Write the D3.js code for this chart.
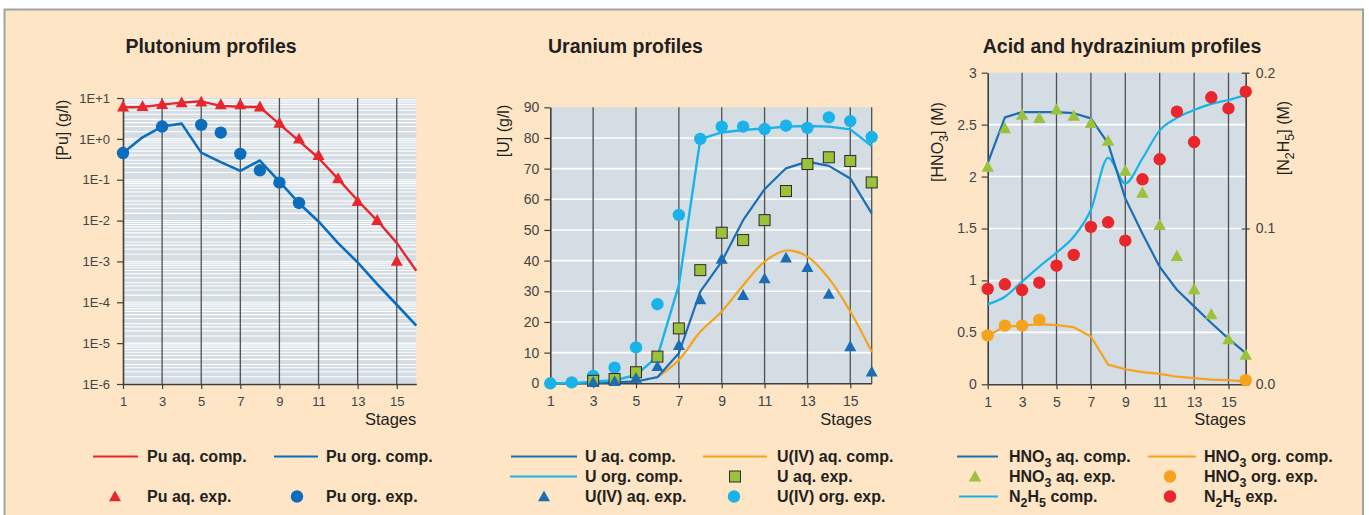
<!DOCTYPE html>
<html>
<head>
<meta charset="utf-8">
<script src="https://cdn.jsdelivr.net/npm/d3@7"></script>
<style>
  body { margin: 0; background: #ffffff; }
  svg text { font-family: "Liberation Sans", Arial, Helvetica, sans-serif; }
</style>
</head>
<body>
<svg id="chart" width="1369" height="515"></svg>
<script>
// ---------- data ----------
const stages = d3.range(1, 17);
const stageTicks = [1, 3, 5, 7, 9, 11, 13, 15];
const gridStages = [3, 5, 7, 9, 11, 13, 15];

// Plutonium profiles, [Pu] in g/l (log scale)
const puTickValues = [10, 1, 0.1, 0.01, 0.001, 0.0001, 0.00001, 0.000001];
const puTickLabels = ["1E+1", "1E+0", "1E-1", "1E-2", "1E-3", "1E-4", "1E-5", "1E-6"];
const puAqComp  = [5.9, 6.0, 6.9, 7.7, 8.3, 6.4, 6.1, 6.0, 2.3, 0.89, 0.34, 0.105, 0.031, 0.01, 0.00285, 0.00059];
const puOrgComp = [0.45, 1.09, 2.0, 2.36, 0.46, 0.27, 0.164, 0.295, 0.09, 0.0266, 0.0095, 0.0028, 0.00095, 0.00028, 0.000087, 0.000027];
const puAqExpStages = [1, 2, 3, 4, 5, 6, 7, 8, 9, 10, 11, 12, 13, 14, 15];
const puAqExp  = [6.0, 6.1, 6.9, 7.6, 7.9, 6.8, 6.8, 6.0, 2.4, 0.98, 0.39, 0.105, 0.029, 0.01, 0.001];
const puOrgExpStages = [1, 3, 5, 6, 7, 8, 9, 10];
const puOrgExp = [0.45, 2.0, 2.2, 1.42, 0.43, 0.17, 0.085, 0.027];

// Uranium profiles, [U] in g/l
const uTicks = [0, 10, 20, 30, 40, 50, 60, 70, 80, 90];
const uAqComp  = [0, 0, 0.1, 0.3, 0.6, 2, 9.8, 29.9, 39.7, 53.2, 63.3, 70.1, 72.3, 70.9, 66.8, 55.4];
const uOrgComp = [0, 0, 0.5, 1, 2.7, 8.7, 32, 79.6, 81.8, 82.6, 83.1, 83.7, 83.9, 83.7, 82.8, 77.4];
const u4AqCompStages = [6, 7, 8, 9, 10, 11, 12, 13, 14, 15, 16];
const u4AqComp = [2, 7.6, 16.8, 23.4, 32, 39.7, 43.3, 41.3, 34.2, 23.4, 10.3];
const uAqExpStages = [3, 4, 5, 6, 7, 8, 9, 10, 11, 12, 13, 14, 15, 16];
const uAqExp = [0.8, 1.4, 3.6, 8.7, 17.9, 36.9, 49.1, 46.7, 53.2, 62.7, 71.5, 73.7, 72.5, 65.5];
const u4AqExpStages = [3, 4, 5, 6, 7, 8, 9, 10, 11, 12, 13, 14, 15, 16];
const u4AqExp = [0.3, 0.5, 1.6, 5.4, 12.3, 27.2, 40.4, 28.6, 34, 40.8, 37.7, 29, 11.9, 3.6];
const u4OrgExp = [0, 0.3, 2.4, 5.1, 11.7, 25.8, 54.9, 79.7, 83.7, 83.7, 82.9, 84, 83.3, 86.7, 85.5, 80.3];

// Acid and hydrazinium profiles, [HNO3] and [N2H5] in M
const hno3Ticks = [0, 0.5, 1, 1.5, 2, 2.5, 3];
const hno3TickLabels = ["0", "0.5", "1", "1.5", "2", "2.5", "3"];
const n2h5Ticks = [0, 0.1, 0.2];
const hno3AqComp  = [2.13, 2.57, 2.62, 2.62, 2.62, 2.61, 2.56, 2.32, 1.79, 1.45, 1.13, 0.91, 0.75, 0.59, 0.44, 0.30];
const hno3OrgComp = [0.47, 0.555, 0.565, 0.58, 0.57, 0.55, 0.46, 0.19, 0.145, 0.118, 0.10, 0.073, 0.06, 0.045, 0.04, 0.025];
const hno3AqExp   = [2.09, 2.46, 2.59, 2.56, 2.64, 2.58, 2.51, 2.34, 2.05, 1.84, 1.53, 1.23, 0.91, 0.67, 0.43, 0.28];
const hno3OrgExpStages = [1, 2, 3, 4, 16];
const hno3OrgExp  = [0.47, 0.565, 0.565, 0.62, 0.04];
const n2h5Comp = [0.0513, 0.0562, 0.0659, 0.0755, 0.0845, 0.0947, 0.112, 0.1454, 0.129, 0.145, 0.163, 0.171, 0.176, 0.18, 0.1825, 0.1857];
const n2h5Exp  = [0.0612, 0.0642, 0.0605, 0.0652, 0.0761, 0.083, 0.101, 0.104, 0.0922, 0.1316, 0.1444, 0.175, 0.1555, 0.1842, 0.1771, 0.1878];

// ---------- palette ----------
const C = {
  page: "#fde5c6", frame: "#9fa3a6", plot: "#d4dde3",
  axis: "#3f3f3f", grid: "#505050", tick: "#444444", ink: "#231f20",
  red: "#e8262b", blue: "#0b6dbb", dblue: "#1d6db4", lblue: "#19b3ea",
  orange: "#f5a31c", green: "#9cc23c"
};

const svg = d3.select("#chart");
svg.append("rect").attr("x", 4.5).attr("y", 9.5).attr("width", 1358.5).attr("height", 520)
  .attr("fill", C.page).attr("stroke", C.frame).attr("stroke-width", 2);

const pairs = (xs, ys) => xs.map((s, i) => ({ s, v: ys[i] }));

// text with single-character subscripts written as "_x"
function rich(textSel, str, size) {
  const shift = size * 0.3, sub = size * 0.78;
  const parts = [];
  let buf = "";
  for (let i = 0; i < str.length; i++) {
    if (str[i] === "_") { if (buf) parts.push([buf, false]); buf = ""; parts.push([str[i + 1], true]); i++; }
    else buf += str[i];
  }
  if (buf) parts.push([buf, false]);
  let down = false;
  parts.forEach(([t, isSub]) => {
    const ts = textSel.append("tspan").text(t);
    if (isSub) { ts.attr("font-size", sub); if (!down) { ts.attr("dy", shift); down = true; } }
    else if (down) { ts.attr("dy", -shift); down = false; }
  });
  return textSel;
}

function triangle(g, x, y, w, color) {
  const h = w * 0.9;
  g.append("path")
    .attr("d", `M${x},${y - h * 0.6}L${x + w / 2},${y + h * 0.4}L${x - w / 2},${y + h * 0.4}Z`)
    .attr("fill", color);
}

function setupPanel(o) {
  const g = svg.append("g");
  const [x0, x1] = o.xRange, [yb, yt] = o.yRange;
  const x = d3.scaleLinear().domain([1, 16]).range(o.xRange);
  const y = o.y;
  g.append("rect").attr("x", x0).attr("y", yt).attr("width", x1 - x0).attr("height", yb - yt).attr("fill", C.plot);
  // horizontal white grid
  g.selectAll(".hg").data(o.hLines).join("line")
    .attr("x1", x0).attr("x2", x1).attr("y1", d => y(d)).attr("y2", d => y(d))
    .attr("stroke", "#ffffff").attr("stroke-width", o.hWidth || 1.6);
  // vertical stage grid
  g.selectAll(".vg").data(o.vLines).join("line")
    .attr("x1", d => x(d)).attr("x2", d => x(d)).attr("y1", yt).attr("y2", yb)
    .attr("stroke", C.grid).attr("stroke-width", 1.3);
  // axes
  const ax = g.append("g").attr("transform", `translate(0,${yb})`)
    .call(d3.axisBottom(x).tickValues(stageTicks).tickSize(5).tickSizeOuter(0).tickPadding(8).tickFormat(d3.format("d")));
  const ay = g.append("g").attr("transform", `translate(${x0},0)`)
    .call(d3.axisLeft(y).tickValues(o.yTicks).tickSize(6).tickSizeOuter(0).tickPadding(o.yPad)
      .tickFormat((d, i) => o.yLabels[i]));
  [ax, ay].forEach(a => {
    a.select(".domain").attr("stroke", C.axis).attr("stroke-width", 1.6);
    a.selectAll(".tick line").attr("stroke", C.axis).attr("stroke-width", 1.2);
    a.selectAll(".tick text").attr("fill", C.tick).attr("font-size", o.tickSize).attr("font-family", "Liberation Sans, Arial, sans-serif");
  });
  // title, axis name, stages label
  svg.append("text").attr("x", o.titleX).attr("y", 53).attr("text-anchor", "middle")
    .attr("font-size", 19.5).attr("font-weight", "bold").attr("fill", C.ink).text(o.title);
  rich(svg.append("text").attr("transform", `translate(${o.yLabelX},${o.yLabelY}) rotate(-90)`)
    .attr("text-anchor", "middle").attr("font-size", 16).attr("fill", C.ink), o.yLabel, 16);
  svg.append("text").attr("x", x1).attr("y", 425).attr("text-anchor", "end")
    .attr("font-size", 16.5).attr("fill", C.ink).text("Stages");
  return { g, x, y };
}

function drawLine(p, data, color, width, curve, yScale) {
  const ys = yScale || p.y;
  p.g.append("path").datum(data)
    .attr("d", d3.line().x(d => p.x(d.s)).y(d => ys(d.v)).curve(curve || d3.curveLinear))
    .attr("fill", "none").attr("stroke", color).attr("stroke-width", width).attr("stroke-linejoin", "round");
}
function drawDots(p, data, color, r, yScale) {
  const ys = yScale || p.y;
  p.g.selectAll(null).data(data).join("circle")
    .attr("cx", d => p.x(d.s)).attr("cy", d => ys(d.v)).attr("r", r).attr("fill", color);
}
function drawTris(p, data, color, w, yScale) {
  const ys = yScale || p.y;
  data.forEach(d => triangle(p.g, p.x(d.s), ys(d.v), w, color));
}
function drawSquares(p, data, color, w) {
  p.g.selectAll(null).data(data).join("rect")
    .attr("x", d => p.x(d.s) - w / 2).attr("y", d => p.y(d.v) - w / 2).attr("width", w).attr("height", w)
    .attr("fill", color).attr("stroke", "#2b2b2b").attr("stroke-width", 1);
}

// ---------- Plutonium ----------
const puMinor = [];
for (let e = -6; e < 1; e++) [1, 1.5, 2, 2.5, 3, 4, 5, 6, 7, 8, 9].forEach(k => puMinor.push(k * Math.pow(10, e)));
const pu = setupPanel({
  xRange: [123, 416.3], yRange: [384, 98],
  y: d3.scaleLog().domain([1e-6, 10]).range([384, 98]),
  hLines: puMinor, hWidth: 1.1, vLines: gridStages,
  yTicks: puTickValues, yLabels: puTickLabels, yPad: 7, tickSize: 13,
  title: "Plutonium profiles", titleX: 211,
  yLabel: "[Pu] (g/l)", yLabelX: 68, yLabelY: 130
});
drawLine(pu, pairs(stages, puAqComp), C.red, 2.4);
drawLine(pu, pairs(stages, puOrgComp), C.blue, 2.6);
drawTris(pu, pairs(puAqExpStages, puAqExp), C.red, 12);
drawDots(pu, pairs(puOrgExpStages, puOrgExp), C.blue, 6.2);

// ---------- Uranium ----------
const ur = setupPanel({
  xRange: [550.3, 871.7], yRange: [383.3, 107.3],
  y: d3.scaleLinear().domain([0, 90]).range([383.3, 107.3]),
  hLines: [10, 20, 30, 40, 50, 60, 70, 80], vLines: gridStages.concat([16]),
  yTicks: uTicks, yLabels: uTicks.map(String), yPad: 5, tickSize: 14,
  title: "Uranium profiles", titleX: 625.5,
  yLabel: "[U] (g/l)", yLabelX: 509, yLabelY: 131
});
drawLine(ur, pairs(u4AqCompStages, u4AqComp), C.orange, 2.2, d3.curveCatmullRom);
drawLine(ur, pairs(stages, uAqComp), C.dblue, 2.2);
drawLine(ur, pairs(stages, uOrgComp), C.lblue, 2.4);
drawDots(ur, pairs(stages, u4OrgExp), C.lblue, 6.2);
drawSquares(ur, pairs(uAqExpStages, uAqExp), C.green, 11);
drawTris(ur, pairs(u4AqExpStages, u4AqExp), C.dblue, 12);

// ---------- Acid and hydrazinium ----------
const yN = d3.scaleLinear().domain([0, 0.2]).range([384.3, 72.7]);
const ac = setupPanel({
  xRange: [987.7, 1245.7], yRange: [384.3, 72.7],
  y: d3.scaleLinear().domain([0, 3]).range([384.3, 72.7]),
  hLines: [0.5, 1, 1.5, 2, 2.5], vLines: gridStages,
  yTicks: hno3Ticks, yLabels: hno3TickLabels, yPad: 5, tickSize: 14,
  title: "Acid and hydrazinium profiles", titleX: 1122,
  yLabel: "[HNO_3] (M)", yLabelX: 943, yLabelY: 142
});
const ar = ac.g.append("g").attr("transform", "translate(1245.7,0)")
  .call(d3.axisRight(yN).tickValues(n2h5Ticks).tickSize(4).tickSizeOuter(0).tickPadding(6).tickFormat(d3.format(".1f")));
ar.select(".domain").attr("stroke", C.axis).attr("stroke-width", 1.6);
ar.selectAll(".tick line").attr("x1", -4).attr("stroke", C.axis).attr("stroke-width", 1.2);
ar.selectAll(".tick text").attr("fill", C.tick).attr("font-size", 14).attr("font-family", "Liberation Sans, Arial, sans-serif");
rich(svg.append("text").attr("transform", "translate(1289,138) rotate(-90)")
  .attr("text-anchor", "middle").attr("font-size", 16).attr("fill", C.ink), "[N_2H_5] (M)", 16);

drawLine(ac, pairs(stages, hno3OrgComp), C.orange, 2.2);
drawLine(ac, pairs(stages, n2h5Comp), C.lblue, 2.2, d3.curveMonotoneX, yN);
drawLine(ac, pairs(stages, hno3AqComp), C.dblue, 2.2);
drawTris(ac, pairs(stages, hno3AqExp), C.green, 12.5);
drawDots(ac, pairs(hno3OrgExpStages, hno3OrgExp), C.orange, 6.2);
drawDots(ac, pairs(stages, n2h5Exp), C.red, 6.2, yN);

// ---------- legends ----------
const lg = svg.append("g");
function legText(x, y, str) {
  rich(lg.append("text").attr("x", x).attr("y", y + 5.5).attr("font-size", 16)
    .attr("font-weight", "bold").attr("fill", C.ink), str, 16);
}
function legLine(xa, xb, y, color) {
  lg.append("line").attr("x1", xa).attr("x2", xb).attr("y1", y).attr("y2", y)
    .attr("stroke", color).attr("stroke-width", 2.2);
}
const R1 = 456.5, R2 = 476.5, R3 = 496.5;
// Pu
legLine(93, 138, R1, C.red); legText(147, R1, "Pu aq. comp.");
legLine(274, 318, R1, C.blue); legText(326, R1, "Pu org. comp.");
triangle(lg, 115, R3 + 0.5, 12, C.red); legText(147, R3, "Pu aq. exp.");
lg.append("circle").attr("cx", 297).attr("cy", R3).attr("r", 6.2).attr("fill", C.blue); legText(326, R3, "Pu org. exp.");
// U
legLine(511, 577, R1, C.dblue); legText(585, R1, "U aq. comp.");
legLine(703, 767, R1, C.orange); legText(777, R1, "U(IV) aq. comp.");
legLine(510, 577, R2, C.lblue); legText(585, R2, "U org. comp.");
lg.append("rect").attr("x", 729.5).attr("y", R2 - 5.5).attr("width", 11).attr("height", 11)
  .attr("fill", C.green).attr("stroke", "#2b2b2b").attr("stroke-width", 1); legText(777, R2, "U aq. exp.");
triangle(lg, 544, R3 + 0.5, 12, C.dblue); legText(585, R3, "U(IV) aq. exp.");
lg.append("circle").attr("cx", 734).attr("cy", R3).attr("r", 6.2).attr("fill", C.lblue); legText(777, R3, "U(IV) org. exp.");
// Acid
legLine(957, 998, R1, C.dblue); legText(1009, R1, "HNO_3 aq. comp.");
legLine(1148, 1196, R1, C.orange); legText(1204, R1, "HNO_3 org. comp.");
triangle(lg, 975, R2 + 0.5, 12.5, C.green); legText(1009, R2, "HNO_3 aq. exp.");
lg.append("circle").attr("cx", 1170).attr("cy", R2).attr("r", 6.2).attr("fill", C.orange); legText(1204, R2, "HNO_3 org. exp.");
legLine(959, 998, R3, C.lblue); legText(1009, R3, "N_2H_5 comp.");
lg.append("circle").attr("cx", 1170).attr("cy", R3).attr("r", 6.2).attr("fill", C.red); legText(1204, R3, "N_2H_5 exp.");
</script>
</body>
</html>
